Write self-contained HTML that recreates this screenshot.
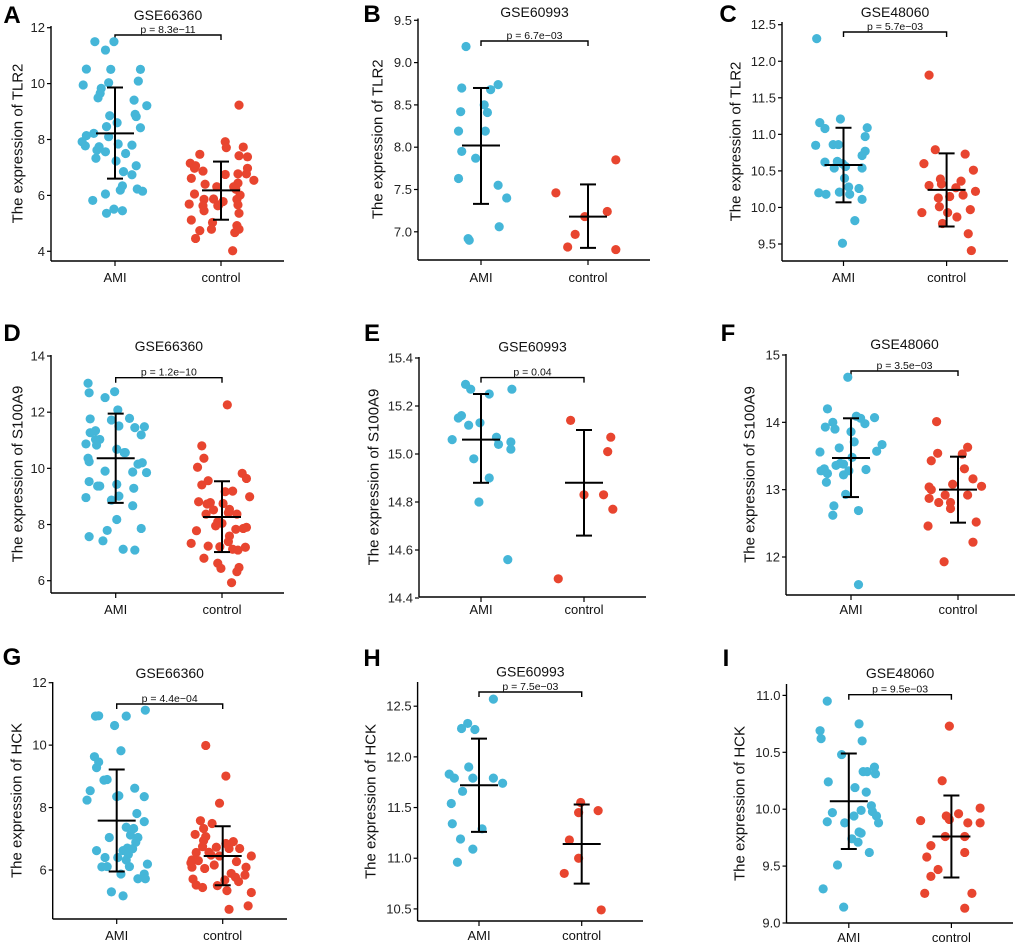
<!DOCTYPE html>
<html><head><meta charset="utf-8"><style>
html,body{margin:0;padding:0;background:#fff;}
svg{display:block;font-family:"Liberation Sans",Arial,sans-serif;}
</style></head><body>
<svg id="fig" width="1020" height="943" viewBox="0 0 1020 943"></svg>
<script>
// ---------- DATA ----------
const groups = ["AMI","control"];
// A: TLR2 GSE66360
const A_ami = [11.5,11.5,11.2,10.52,10.51,10.51,9.95,10.09,10.03,9.83,9.65,9.49,9.41,9.21,8.9,8.82,8.85,8.46,8.6,8.42,8.14,8.22,8.1,7.92,7.77,7.84,7.8,7.74,7.62,7.56,7.5,7.33,7.23,7.06,6.85,6.74,6.34,6.19,6.23,6.15,6.05,5.82,5.51,5.45,5.36];
const A_amiJ = [-0.19,-0.01,-0.09,-0.27,-0.04,0.24,-0.3,0.22,-0.06,-0.13,-0.14,-0.16,0.18,0.3,0.19,0.2,-0.05,-0.08,0.02,0.24,-0.27,-0.2,-0.06,-0.31,-0.28,0.03,0.16,-0.15,-0.17,-0.09,0.1,-0.18,0.01,0.2,0.08,0.16,0.07,0.05,0.21,0.26,-0.09,-0.21,-0.01,0.07,-0.08];
const A_ctl = [9.23,7.92,7.71,7.73,7.47,7.42,7.15,7.06,6.97,6.87,6.75,7.38,6.97,6.77,6.77,6.54,6.61,6.44,6.4,6.31,6.31,6.22,6.01,6.05,5.86,5.87,5.78,5.86,5.69,5.63,5.45,5.63,5.66,5.66,5.36,5.12,5.03,4.92,4.74,4.79,4.79,4.67,4.46,4.02];
const A_ctlJ = [0.17,0.04,0.05,0.21,-0.2,0.17,-0.29,-0.24,-0.25,-0.17,0.04,0.25,0.25,0.16,0.24,0.31,-0.28,0.16,-0.15,-0.04,0.12,0.14,0.18,-0.25,-0.16,-0.07,0.02,0.15,-0.3,-0.17,-0.16,-0.03,-0.02,0.16,0.17,-0.28,-0.08,0.15,-0.2,-0.09,0.17,0.13,-0.24,0.11];
const A_mean = [8.22,6.18], A_lo = [6.6,5.13], A_hi = [9.86,7.21];
const A_ticks = [4,6,8,10,12];
// B: TLR2 GSE60993
const B_ami = [9.19,8.7,8.68,8.74,8.5,8.42,8.41,8.19,8.19,7.95,7.87,7.63,7.55,7.4,7.06,6.92,6.9];
const B_amiJ = [-0.14,-0.18,0.09,0.16,0.03,-0.19,0.06,-0.21,0.04,-0.18,-0.05,-0.21,0.16,0.24,0.17,-0.12,-0.11];
const B_ctl = [7.46,7.85,7.24,7.18,6.97,6.82,6.79];
const B_ctlJ = [-0.3,0.26,0.18,-0.03,-0.12,-0.19,0.26];
const B_mean = [8.02,7.18], B_lo = [7.33,6.81], B_hi = [8.7,7.56];
const B_ticks = [7.0,7.5,8.0,8.5,9.0,9.5];
// C: TLR2 GSE48060
const C_ami = [12.31,11.16,11.21,11.08,11.09,10.97,10.85,10.86,10.86,10.77,10.71,10.62,10.63,10.6,10.54,10.54,10.56,10.4,10.28,10.21,10.26,10.2,10.18,10.18,10.11,9.82,9.51];
const C_amiJ = [-0.26,-0.23,-0.03,-0.18,0.23,0.21,-0.27,-0.1,-0.05,0.21,0.18,-0.18,-0.06,-0.01,-0.09,0.18,0.02,0.01,0.05,-0.04,0.15,-0.24,-0.17,0.06,0.18,0.11,-0.01];
const C_ctl = [11.81,10.79,10.73,10.6,10.51,10.3,10.39,10.32,10.36,10.27,10.22,10.17,10.15,10.13,10.01,9.93,9.93,9.97,9.87,9.78,9.64,9.41];
const C_ctlJ = [-0.17,-0.11,0.18,-0.22,0.26,-0.17,-0.06,-0.05,0.14,0.09,0.28,0.16,0.03,-0.08,-0.07,0.01,-0.24,0.23,0.1,-0.04,0.21,0.24];
const C_mean = [10.58,10.24], C_lo = [10.07,9.74], C_hi = [11.09,10.74];
const C_ticks = [9.5,10.0,10.5,11.0,11.5,12.0,12.5];
// D: S100A9 GSE66360
const D_ami = [13.03,12.69,12.73,12.52,12.08,11.76,11.72,11.78,11.51,11.34,11.27,11.45,11.48,11.19,11.03,11.03,10.87,10.83,10.68,10.56,10.36,10.56,10.24,10.15,10.2,9.9,9.87,9.85,9.53,9.37,9.37,9.43,9.29,8.96,9.01,8.87,8.67,8.18,7.86,7.57,7.79,7.42,7.12,7.09];
const D_amiJ = [-0.26,-0.25,-0.01,-0.1,0.02,-0.24,-0.04,0.13,0.03,-0.19,-0.24,0.18,0.27,0.24,-0.15,-0.19,-0.28,-0.18,0.01,0.09,-0.26,0.08,-0.25,0.21,0.25,-0.1,0.16,0.29,-0.25,-0.17,-0.15,0.01,0.17,-0.28,0.03,-0.04,0.16,0.01,0.24,-0.25,-0.08,-0.12,0.07,0.18];
const D_ctl = [12.26,10.8,10.36,10.04,9.82,9.41,9.64,9.56,9.17,9.19,8.99,8.81,8.73,8.78,8.75,8.54,8.52,8.37,8.42,8.37,8.1,8.04,7.95,7.78,7.83,7.9,7.86,7.59,7.23,7.21,7.12,7.09,7.19,6.8,6.62,6.44,6.47,6.32,5.93,7.33,7.39];
const D_ctlJ = [0.05,-0.19,-0.17,-0.23,0.19,-0.19,0.23,-0.13,0.03,0.1,0.26,-0.22,-0.14,-0.11,0.01,0.07,-0.08,-0.15,0.06,0.14,-0.04,0,-0.06,-0.24,0.13,0.23,0.2,0.07,-0.13,-0.02,0.1,0.15,0.22,-0.17,-0.04,-0.01,0.16,0.14,0.09,-0.29,0.06];
const D_mean = [10.36,8.27], D_lo = [8.77,7.02], D_hi = [11.95,9.54];
const D_ticks = [6,8,10,12,14];
// E: S100A9 GSE60993
const E_ami = [15.29,15.27,15.25,15.27,15.15,15.16,15.12,15.13,15.06,15.07,15.04,15.05,15.02,14.98,14.9,14.8,14.56];
const E_amiJ = [-0.15,-0.1,0.08,0.3,-0.22,-0.19,-0.12,-0.01,-0.28,0.15,0.17,0.29,0.29,-0.07,0.08,-0.02,0.26];
const E_ctl = [15.14,15.07,15.01,14.83,14.83,14.77,14.48];
const E_ctlJ = [-0.13,0.26,0.23,0,0.19,0.28,-0.25];
const E_mean = [15.06,14.88], E_lo = [14.88,14.66], E_hi = [15.25,15.1];
const E_ticks = [14.4,14.6,14.8,15.0,15.2,15.4];
// F: S100A9 GSE48060
const F_ami = [14.67,14.2,14.0,13.93,13.9,14.09,14.06,13.98,14.07,13.86,13.71,13.62,13.56,13.67,13.57,13.48,13.39,13.36,13.38,13.31,13.28,13.24,13.22,13.28,13.3,13.11,12.93,12.76,12.69,12.62,11.59];
const F_amiJ = [-0.03,-0.22,-0.17,-0.24,-0.15,0.05,0.09,0.13,0.22,0,0.03,-0.11,-0.29,0.29,0.24,0.01,-0.1,-0.14,-0.07,-0.25,-0.28,-0.22,-0.07,-0.02,0.14,-0.23,-0.05,-0.16,0.07,-0.17,0.07];
const F_ctl = [14.01,13.63,13.54,13.53,13.43,13.31,13.16,13.05,13.04,13.0,13.08,12.87,12.92,12.92,12.81,12.81,12.72,12.52,12.46,12.22,11.93];
const F_ctlJ = [-0.2,0.09,-0.19,0.04,-0.25,0.06,0.14,0.22,-0.27,-0.25,-0.05,-0.27,-0.12,0.09,-0.18,-0.07,-0.07,0.17,-0.28,0.14,-0.13];
const F_mean = [13.47,13.0], F_lo = [12.89,12.51], F_hi = [14.06,13.49];
const F_ticks = [12,13,14,15];
// G: HCK GSE66360
const G_ami = [10.93,10.94,10.93,11.12,10.63,9.82,9.63,9.46,9.28,8.88,8.9,8.54,8.62,8.24,8.35,8.38,8.35,7.81,7.55,7.37,7.33,7.04,7.12,7.04,6.89,6.7,6.68,6.62,6.62,6.4,6.5,6.4,6.32,6.19,6.1,6.11,6.11,5.87,5.87,5.72,5.72,5.3,5.17];
const G_amiJ = [-0.2,-0.17,0.09,0.27,-0.02,0.04,-0.21,-0.17,-0.19,-0.12,-0.09,-0.25,0.17,-0.28,0,0.02,0.26,0.19,0.26,0.09,0.16,-0.07,0.13,0.2,0.18,0.1,0.15,-0.19,0.06,0.01,0.11,-0.11,0.09,0.29,-0.14,-0.09,0.12,0.04,0.26,0.2,0.27,-0.05,0.06];
const G_ctl = [9.99,9.01,8.14,7.58,7.49,7.33,7.14,7.07,6.94,6.91,6.73,6.69,6.75,6.69,6.56,6.57,6.48,6.85,6.45,6.32,6.3,6.16,6.27,6.05,6.09,6.09,5.89,5.84,5.71,5.77,5.68,5.63,5.52,5.44,5.5,5.34,5.28,4.85,4.74,6.45,6.23];
const G_ctlJ = [-0.16,0.03,-0.03,-0.21,-0.1,-0.18,-0.26,-0.16,-0.18,0.1,-0.06,0.06,-0.19,0.16,-0.25,-0.13,-0.11,0.03,0.27,-0.29,-0.23,-0.08,0.13,-0.17,0.22,-0.29,0.08,0.21,-0.28,0.12,0.02,0.15,-0.25,-0.19,-0.05,0.04,0.27,0.24,0.06,-0.03,-0.3];
const G_mean = [7.58,6.45], G_lo = [5.95,5.51], G_hi = [9.22,7.4];
const G_ticks = [6,8,10,12];
// H: HCK GSE60993
const H_ami = [12.57,12.28,12.33,12.27,11.83,11.79,11.9,11.79,11.79,11.74,11.66,11.54,11.29,11.34,11.19,11.09,10.96];
const H_amiJ = [0.14,-0.17,-0.11,-0.04,-0.29,-0.24,-0.1,-0.06,0.14,0.23,-0.16,-0.27,0.03,-0.26,-0.18,-0.06,-0.21];
const H_ctl = [11.55,11.47,11.45,11.18,11.0,10.85,10.49];
const H_ctlJ = [-0.01,0.16,-0.03,-0.12,-0.03,-0.17,0.19];
const H_mean = [11.72,11.14], H_lo = [11.26,10.75], H_hi = [12.18,11.53];
const H_ticks = [10.5,11.0,11.5,12.0,12.5];
// I: HCK GSE48060
const I_ami = [10.95,10.75,10.69,10.62,10.6,10.48,10.37,10.33,10.33,10.31,10.24,10.19,10.15,10.03,9.99,9.98,9.97,9.94,9.94,9.89,9.88,9.88,9.8,9.79,9.74,9.71,9.62,9.51,9.3,9.14];
const I_amiJ = [-0.21,0.1,-0.28,-0.27,0.13,-0.07,0.25,0.14,0.18,0.26,-0.2,0.06,0.17,0.22,0.12,0.23,-0.16,0.27,0.05,-0.21,-0.04,0.29,0.1,0.12,0.03,0.09,0.2,-0.11,-0.25,-0.05];
const I_ctl = [10.73,10.25,10.01,9.96,9.94,9.91,9.9,9.88,9.88,9.76,9.76,9.68,9.62,9.58,9.47,9.41,9.26,9.26,9.13];
const I_ctlJ = [-0.02,-0.09,0.28,0.07,-0.05,-0.02,-0.3,0.16,0.28,-0.06,0.13,-0.2,0.13,-0.24,-0.13,-0.2,-0.26,0.2,0.13];
const I_mean = [10.07,9.76], I_lo = [9.65,9.4], I_hi = [10.49,10.12];
const I_ticks = [9.0,9.5,10.0,10.5,11.0];

// ---------- LAYOUT ----------
const BLUE = "#45b6d8", RED = "#e8452f";
const NS = "http://www.w3.org/2000/svg";
const svg = document.getElementById("fig");
function mk(tag, attrs, parent, text){
  const e = document.createElementNS(NS, tag);
  for (const k in attrs) e.setAttribute(k, attrs[k]);
  if (text !== undefined) e.textContent = text;
  (parent || svg).appendChild(e);
  return e;
}
const panels = [
 {id:"A",gene:"TLR2",gse:"GSE66360",p:"p = 8.3e\u221211",ax:51,xb:261,xr:284,c:[115,221],v0:4,p0:251.3,v1:12,p1:27.7,br:35,ty:15,lx:12,ly:15,yt:17,top:26,xl:277,ami:A_ami,amiJ:A_amiJ,ctl:A_ctl,ctlJ:A_ctlJ,mean:A_mean,lo:A_lo,hi:A_hi,ticks:A_ticks,dec:0},
 {id:"B",gene:"TLR2",gse:"GSE60993",p:"p = 6.7e\u221203",ax:418,xb:260,xr:650,c:[481,588],v0:7,p0:231.8,v1:9.5,p1:20.3,br:41,ty:12,lx:372,ly:14,yt:377,top:18.5,xl:277,ami:B_ami,amiJ:B_amiJ,ctl:B_ctl,ctlJ:B_ctlJ,mean:B_mean,lo:B_lo,hi:B_hi,ticks:B_ticks,dec:1},
 {id:"C",gene:"TLR2",gse:"GSE48060",p:"p = 5.7e\u221203",ax:782,xb:261,xr:1008,c:[843.5,946.6],v0:9.5,p0:244,v1:12.5,p1:24.7,br:32,ty:12,lx:728,ly:14,yt:735,top:22,xl:277,ami:C_ami,amiJ:C_amiJ,ctl:C_ctl,ctlJ:C_ctlJ,mean:C_mean,lo:C_lo,hi:C_hi,ticks:C_ticks,dec:1},
 {id:"D",gene:"S100A9",gse:"GSE66360",p:"p = 1.2e\u221210",ax:51,xb:593,xr:284,c:[115.7,222],v0:6,p0:580.7,v1:14,p1:356,br:377.7,ty:346,lx:12,ly:333,yt:17,top:355,xl:609,ami:D_ami,amiJ:D_amiJ,ctl:D_ctl,ctlJ:D_ctlJ,mean:D_mean,lo:D_lo,hi:D_hi,ticks:D_ticks,dec:0},
 {id:"E",gene:"S100A9",gse:"GSE60993",p:"p = 0.04",ax:419,xb:597,xr:646,c:[481,584],v0:14.4,p0:598,v1:15.4,p1:358,br:377.6,ty:346.5,lx:372,ly:333,yt:373,top:357,xl:609,ami:E_ami,amiJ:E_amiJ,ctl:E_ctl,ctlJ:E_ctlJ,mean:E_mean,lo:E_lo,hi:E_hi,ticks:E_ticks,dec:1},
 {id:"F",gene:"S100A9",gse:"GSE48060",p:"p = 3.5e\u221203",ax:786,xb:595,xr:1015,c:[851,958],v0:12,p0:557,v1:15,p1:355,br:371,ty:344,lx:728,ly:333,yt:749,top:354,xl:609,ami:F_ami,amiJ:F_amiJ,ctl:F_ctl,ctlJ:F_ctlJ,mean:F_mean,lo:F_lo,hi:F_hi,ticks:F_ticks,dec:0},
 {id:"G",gene:"HCK",gse:"GSE66360",p:"p = 4.4e\u221204",ax:52.7,xb:919,xr:287,c:[116.7,222.7],v0:6,p0:870,v1:12,p1:682.7,br:704,ty:673,lx:12,ly:657,yt:16,top:682,xl:935,ami:G_ami,amiJ:G_amiJ,ctl:G_ctl,ctlJ:G_ctlJ,mean:G_mean,lo:G_lo,hi:G_hi,ticks:G_ticks,dec:0},
 {id:"H",gene:"HCK",gse:"GSE60993",p:"p = 7.5e\u221203",ax:417.6,xb:921,xr:643,c:[479,581.7],v0:10.5,p0:908.9,v1:12.5,p1:706.2,br:692,ty:671.5,lx:372,ly:658,yt:370,top:682,xl:935,ami:H_ami,amiJ:H_amiJ,ctl:H_ctl,ctlJ:H_ctlJ,mean:H_mean,lo:H_lo,hi:H_hi,ticks:H_ticks,dec:1},
 {id:"I",gene:"HCK",gse:"GSE48060",p:"p = 9.5e\u221203",ax:786.5,xb:923,xr:1013,c:[848.8,951.4],v0:9,p0:923,v1:11,p1:695.4,br:694.7,ty:672.9,lx:726,ly:658,yt:739,top:684,xl:937,ami:I_ami,amiJ:I_amiJ,ctl:I_ctl,ctlJ:I_ctlJ,mean:I_mean,lo:I_lo,hi:I_hi,ticks:I_ticks,dec:1}
];

panels.forEach(P => {
  const g = mk("g", {});
  
  
  const y = v => P.p0 + (v - P.v0) * (P.p1 - P.p0) / (P.v1 - P.v0);
  const sp = P.c[1] - P.c[0];
  const xj = (gi, j) => P.c[gi] + j * sp;

  const lt = mk("text", {x:P.lx, y:P.ly + 8, "text-anchor":"middle", "font-size":24, "font-weight":"bold", fill:"#000"}, g, P.id);
  
  

  const tt = mk("text", {x:(P.c[0]+P.c[1])/2, y:P.ty + 5, "text-anchor":"middle", "font-size":14, fill:"#111"}, g, P.gse);
  
  

  // axes
  const yax = mk("line", {x1:P.ax, y1:P.top, x2:P.ax, y2:P.xb, stroke:"#000", "stroke-width":1.4}, g);
  
  
  const xax = mk("line", {x1:P.ax, y1:P.xb, x2:P.xr, y2:P.xb, stroke:"#000", "stroke-width":1.4}, g);
  
  

  P.ticks.forEach(t => {
    const ty = y(t);
    mk("line", {x1:P.ax-4, y1:ty, x2:P.ax, y2:ty, stroke:"#000", "stroke-width":1.2}, g);
    const tl = mk("text", {x:P.ax-6, y:ty+4.5, "text-anchor":"end", "font-size":13, fill:"#222"}, g, P.dec ? t.toFixed(1) : String(t));
    
    
  });
  const midY = (P.top + P.xb) / 2;
  const yt = mk("text", {x:P.yt, y:midY, "text-anchor":"middle", "font-size":15, fill:"#111", transform:`rotate(-90 ${P.yt} ${midY})`, dy:"0.35em"}, g, "The expression of " + P.gene);
  
  

  groups.forEach((name, gi) => {
    mk("line", {x1:P.c[gi], y1:P.xb, x2:P.c[gi], y2:P.xb+5, stroke:"#000", "stroke-width":1.2}, g);
    const xl = mk("text", {x:P.c[gi], y:P.xl+5, "text-anchor":"middle", "font-size":13, fill:"#111"}, g, name);
    
    
  });

  // bracket
  const br = mk("path", {d:`M${P.c[0]},${P.br+5} V${P.br} H${P.c[1]} V${P.br+5}`, fill:"none", stroke:"#000", "stroke-width":1.4}, g);
  
  
  const pt = mk("text", {x:(P.c[0]+P.c[1])/2, y:P.br-2, "text-anchor":"middle", "font-size":10.5, fill:"#111"}, g, P.p);
  
  

  // points
  [[P.ami, P.amiJ, BLUE, "ami-point"], [P.ctl, P.ctlJ, RED, "control-point"]].forEach((s, gi) => {
    s[0].forEach((v, i) => {
      const c = mk("circle", {cx:xj(gi, s[1][i]), cy:y(v), r:4.6, fill:s[2]}, g);
      
      
    });
  });

  // mean ± sd
  groups.forEach((name, gi) => {
    const cx = P.c[gi];
    const eb = mk("g", {stroke:"#000", "stroke-width":2}, g);
    
    
    mk("line", {x1:cx, y1:y(P.lo[gi]), x2:cx, y2:y(P.hi[gi])}, eb);
    mk("line", {x1:cx-8, y1:y(P.lo[gi]), x2:cx+8, y2:y(P.lo[gi])}, eb);
    mk("line", {x1:cx-8, y1:y(P.hi[gi]), x2:cx+8, y2:y(P.hi[gi])}, eb);
    const m = mk("line", {x1:cx-19, y1:y(P.mean[gi]), x2:cx+19, y2:y(P.mean[gi])}, eb);
    
    
  });
});
</script>
</body></html>
